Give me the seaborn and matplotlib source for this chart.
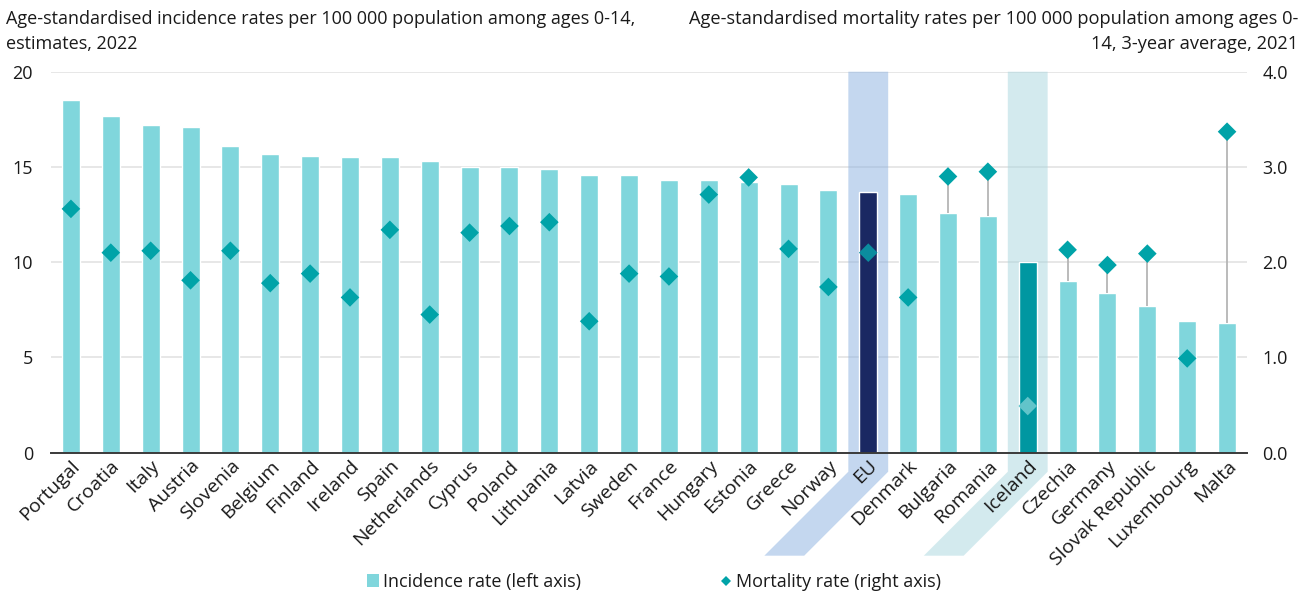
import numpy as np
import pandas as pd
import matplotlib
matplotlib.use("Agg")
import matplotlib.pyplot as plt
from matplotlib.patches import Polygon, Patch
from matplotlib.lines import Line2D
import seaborn as sns

# --- data -------------------------------------------------------------
countries = ["Portugal", "Croatia", "Italy", "Austria", "Slovenia", "Belgium",
             "Finland", "Ireland", "Spain", "Netherlands", "Cyprus", "Poland",
             "Lithuania", "Latvia", "Sweden", "France", "Hungary", "Estonia",
             "Greece", "Norway", "EU", "Denmark", "Bulgaria", "Romania",
             "Iceland", "Czechia", "Germany", "Slovak Republic", "Luxembourg",
             "Malta"]
incidence = [18.5, 17.7, 17.2, 17.1, 16.1, 15.7, 15.6, 15.5, 15.5, 15.3,
             15.0, 15.0, 14.9, 14.6, 14.6, 14.3, 14.3, 14.2, 14.1, 13.8,
             13.7, 13.6, 12.6, 12.4, 10.0, 9.0, 8.4, 7.7, 6.9, 6.8]
mortality = [2.56, 2.10, 2.12, 1.81, 2.12, 1.78, 1.88, 1.63, 2.34, 1.45,
             2.31, 2.38, 2.42, 1.38, 1.88, 1.85, 2.71, 2.89, 2.14, 1.74,
             2.10, 1.63, 2.90, 2.95, 0.49, 2.13, 1.97, 2.09, 0.99, 3.37]
left_ticks = [0, 5, 10, 15, 20]
right_ticks = [0.0, 1.0, 2.0, 3.0, 4.0]
highlighted = {"EU": "#8bb1e1", "Iceland": "#a9d7df"}

title_left = "Age-standardised incidence rates per 100 000 population among ages 0-14,\nestimates, 2022"
title_right = "Age-standardised mortality rates per 100 000 population among ages 0-\n14, 3-year average, 2021"
legend_labels = ["Incidence rate (left axis)", "Mortality rate (right axis)"]

# --- style ------------------------------------------------------------
BAR = "#80d6dc"
EU_BAR = "#1a2862"
IS_BAR = "#0097a1"
DIAMOND = "#00a3a8"
TEXT = "#1a1a1a"
FS = 13

sns.set_theme(style="white")
plt.rcParams["font.family"] = ["Open Sans", "DejaVu Sans"]
plt.rcParams["font.size"] = FS

df = pd.DataFrame({"country": countries, "incidence": incidence,
                   "mortality": mortality})
bar_colors = {c: BAR for c in countries}
bar_colors["EU"] = EU_BAR
bar_colors["Iceland"] = IS_BAR

W, H = 1306, 598
fig = plt.figure(figsize=(W / 100, H / 100), dpi=100)
ax = fig.add_axes([51 / W, 145.3 / H, 1196 / W, 381 / H])

sns.barplot(data=df, x="country", y="incidence", hue="country",
            palette=bar_colors, legend=False, width=0.45, ax=ax,
            saturation=1, zorder=2)

n = len(countries)
ax.set_xlim(-0.5, n - 0.5)
ax.set_ylim(0, 20)
ax.set_yticks(left_ticks)
ax.set_yticklabels([str(t) for t in left_ticks])
ax.yaxis.grid(True, color="#e3e3e3", lw=1.2)
ax.set_axisbelow(True)
ax.set_xlabel("")
ax.set_ylabel("")
for s in ["top", "left", "right"]:
    ax.spines[s].set_visible(False)
ax.spines["bottom"].set_color("#3a3a3a")
ax.spines["bottom"].set_linewidth(1.4)
ax.spines["bottom"].set_zorder(3)
ax.tick_params(axis="y", length=0, pad=13, labelsize=FS, labelcolor=TEXT)
ax.tick_params(axis="x", length=0, labelbottom=False)

# --- mortality on the right axis (country labels live here too) --------
ax2 = ax.twinx()
ax2.set_ylim(0, 4)
ax2.set_yticks(right_ticks)
ax2.set_yticklabels([f"{t:.1f}" for t in right_ticks])
ax2.tick_params(axis="y", length=0, pad=11, labelsize=FS, labelcolor=TEXT)
for s in ax2.spines.values():
    s.set_visible(False)
ax2.grid(False)

xs = np.arange(n)
scale = 20 / 4  # left-axis units per right-axis unit
for x, inc, mort in zip(xs, incidence, mortality):
    if mort * scale > inc:
        ax2.vlines(x, inc / scale, mort, color="#b5b5b5", lw=1.3, zorder=1)

point_colors = [DIAMOND] * n
point_colors[countries.index("EU")] = "#0b8c9e"
point_colors[countries.index("Iceland")] = "#62c4ca"
sns.scatterplot(x=xs, y=mortality, marker="D", s=90, c=point_colors,
                edgecolor="none", linewidth=0, ax=ax2, zorder=3, legend=False)
ax2.set_xlim(-0.5, n - 0.5)
ax2.xaxis.set_visible(True)
ax2.set_xticks(xs)
ax2.set_xticklabels(countries, rotation=45, ha="right", rotation_mode="anchor")
ax2.tick_params(axis="x", bottom=True, labelbottom=True, top=False,
                labeltop=False, length=0, pad=3, labelsize=14, labelcolor=TEXT)

# --- highlight bands for EU and Iceland -------------------------------
fig.canvas.draw()
for name, col in highlighted.items():
    i = countries.index(name)
    (xl, ytop) = ax.transData.transform((i - 0.5, 20))
    (xr, ybase) = ax.transData.transform((i + 0.5, 0))
    knee = ybase - 19
    foot = ybase - 103
    shift = knee - foot
    verts = [(xl, ytop), (xr, ytop), (xr, knee), (xr - shift, foot),
             (xl - shift, foot), (xl, knee)]
    band = Polygon(verts, closed=True, transform=None, facecolor=col,
                   alpha=0.5, edgecolor="none", zorder=1, clip_on=False)
    ax.add_artist(band)

# --- titles -----------------------------------------------------------
fig.text(6 / W, 1 - 9.5 / H, title_left, ha="left", va="top", fontsize=FS,
         color=TEXT, linespacing=1.52)
fig.text(1298 / W, 1 - 9.5 / H, title_right, ha="right", va="top", fontsize=13.15,
         color=TEXT, linespacing=1.52, multialignment="right")

# --- legend -----------------------------------------------------------
handles = [Patch(facecolor=BAR, edgecolor="none"),
           Line2D([], [], marker="D", linestyle="none", color=DIAMOND,
                  markersize=5.5, markeredgewidth=0)]
fig.legend(handles, legend_labels, loc="center", bbox_to_anchor=(654 / W, 1 - 582 / H),
           ncol=2, frameon=False, fontsize=FS, handlelength=0.7,
           handleheight=0.7, handletextpad=0.2, columnspacing=7.7,
           labelcolor=TEXT)

fig.savefig("out.png", dpi=100)
